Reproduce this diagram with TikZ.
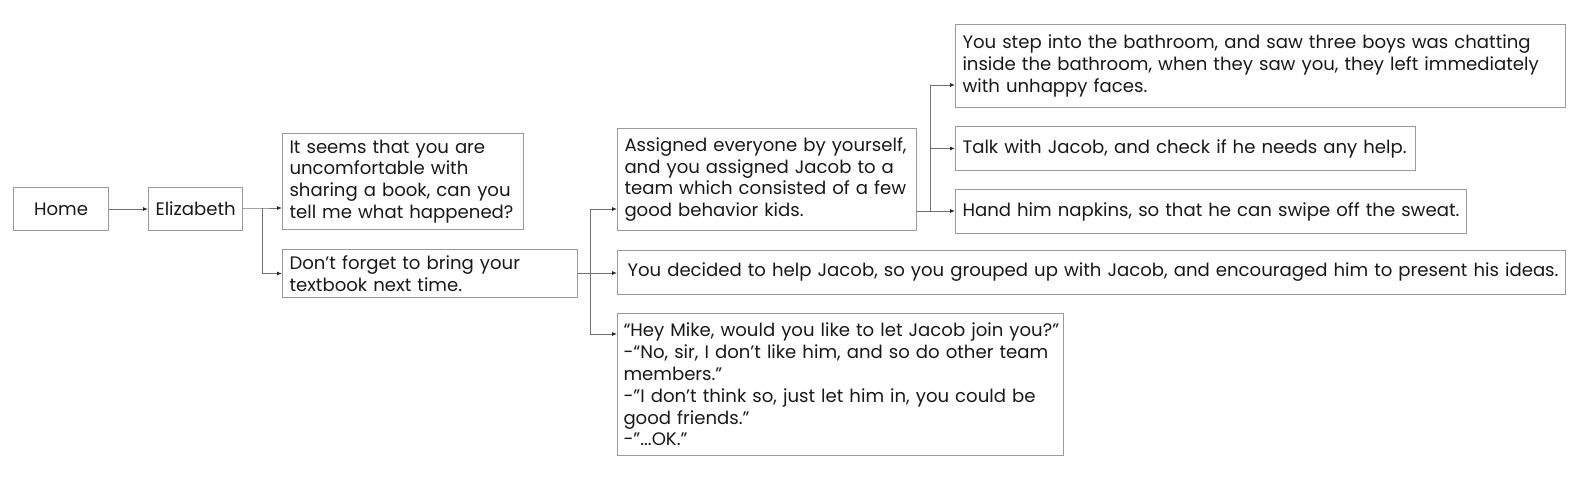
\documentclass[tikz,border=0pt]{standalone}
\usepackage{fontspec}
\setmainfont{Poppins}
\usetikzlibrary{arrows.meta}
\definecolor{boxgray}{HTML}{9A9A9A}
\definecolor{linegray}{HTML}{707070}
\tikzset{
  card/.style={draw=boxgray, line width=1pt, rectangle, anchor=north west, inner xsep=7pt, inner ysep=0pt, align=left, font=\fontsize{18.1}{21.8}\selectfont, text=black!90},
  arr/.style={draw=linegray, line width=0.9pt, -{Latex[length=5pt,width=4pt,color=black!85]}},
  link/.style={draw=linegray, line width=0.9pt}
}
\newcommand{\cardbox}[6]{% name, x, y, w, h, text
  \node[card, minimum width=#4pt, minimum height=#5pt, text width=#4pt-14pt] (#1) at (#2,#3) {#6};}
\begin{document}
\begin{tikzpicture}[x=1pt,y=-1pt]
\useasboundingbox (0,0) rectangle (1575,500);
\node[card, minimum width=95pt, minimum height=43pt, align=center, text width=81pt] (home) at (13,187) {Home};
\node[card, minimum width=94pt, minimum height=43pt, text width=80pt] (eliz) at (148,187) {Elizabeth};
\cardbox{seems}{282}{133}{241}{96}{It seems that you are\\uncomfortable with\\sharing a book, can you\\tell me what happened?}
\cardbox{forget}{282}{249}{295}{48}{Don’t forget to bring your\\textbook next time.}
\cardbox{assigned}{617}{128}{299}{102}{Assigned everyone by yourself,\\and you assigned Jacob to a\\team which consisted of a few\\good behavior kids.}
\cardbox{step}{955}{24}{610}{83}{You step into the bathroom, and saw three boys was chatting\\inside the bathroom, when they saw you, they left immediately\\with unhappy faces.}
\cardbox{talk}{955}{126}{460}{44}{Talk with Jacob, and check if he needs any help.}
\cardbox{hand}{955}{189}{511}{44}{Hand him napkins, so that he can swipe off the sweat.}
\cardbox{decided}{617}{250}{948}{44}{\hspace*{3pt}You decided to help Jacob, so you grouped up with Jacob, and encouraged him to present his ideas.}
\node[card, minimum width=446pt, minimum height=142pt, text width=446pt-12pt, inner xsep=6pt] (mike) at (617,313) {\mbox{“Hey Mike, would you like to let Jacob join you?”}\\\mbox{-“No, sir, I don’t like him, and so do other team}\\members.”\\\mbox{-”I don’t think so, just let him in, you could be}\\good friends.”\\-”...OK.”};
% connectors
\coordinate (j1) at (262,208);
\coordinate (j2) at (590,273);
\coordinate (j3) at (930,211);
\draw[arr] (home) -- (eliz);
\draw[arr] (eliz.east |- j1) -- (j1) -- (seems.west |- j1);
\draw[arr] (j1) |- (forget.west);
\draw[link] (forget.east |- j2) -- (j2);
\draw[arr] (j2) |- (assigned.west |- 0,209);
\draw[arr] (j2) -- (decided.west |- j2);
\draw[arr] (j2) |- (mike.west |- 0,334);
\draw[arr] (assigned.east |- j3) -- (hand.west |- j3);
\draw[arr] (j3) |- (step.west |- 0,85);
\draw[arr] (j3) |- (talk.west);
\end{tikzpicture}
\end{document}
